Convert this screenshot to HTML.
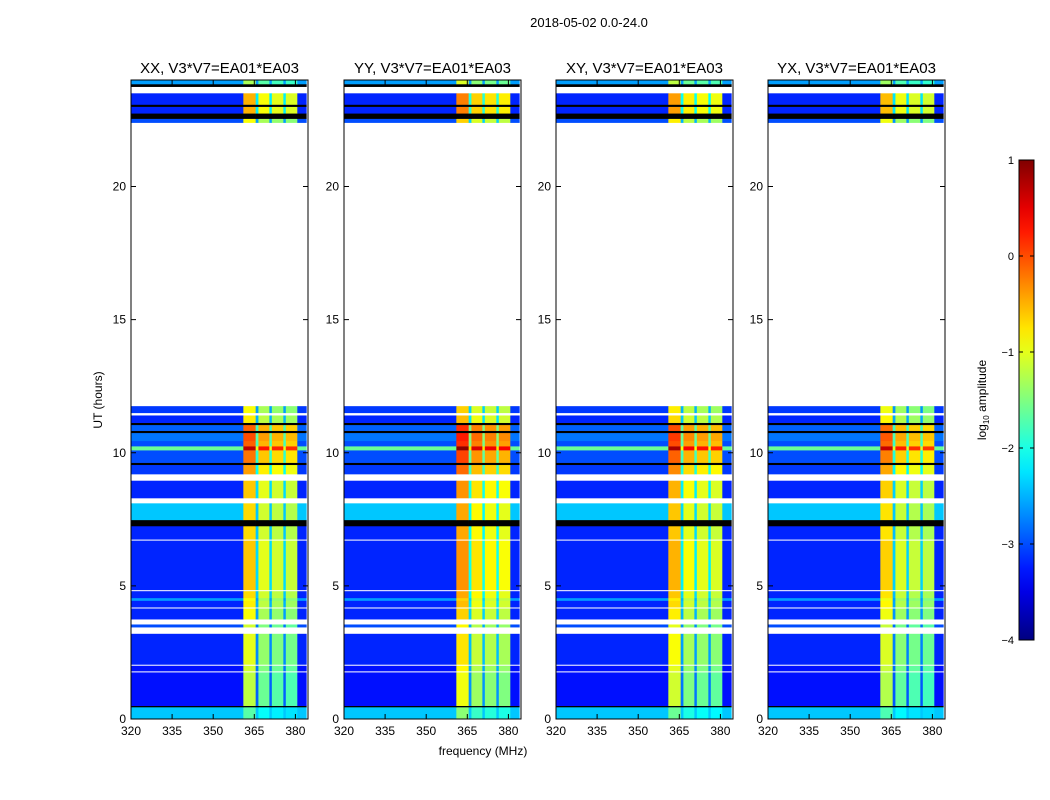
<!DOCTYPE html>
<html><head><meta charset="utf-8"><style>
body{margin:0;background:#fff;}
svg{display:block;font-family:"Liberation Sans",sans-serif;}
</style></head><body>
<svg id="c" width="1050" height="800"></svg>
<script>
// ---- data ----
const panelTitles = ["XX, V3*V7=EA01*EA03","YY, V3*V7=EA01*EA03","XY, V3*V7=EA01*EA03","YX, V3*V7=EA01*EA03"];
const panelBandOffset = [0, 0.25, 0.1, -0.05];
// time segments: [startHour, endHour, backgroundLog, bandLog]; null = flagged (white), -9 = zero (black)
const segStart = [0, 0.45, 0.5, 1.75, 1.8, 2.0, 2.05, 3.2, 3.45, 3.55, 3.75, 4.15, 4.2, 4.45, 4.55, 4.8, 4.85, 6.7, 6.75, 7.25, 7.48, 8.1, 8.3, 8.95, 9.2, 9.55, 9.63, 10.1, 10.25, 10.45, 10.75, 10.83, 11.05, 11.13, 11.4, 11.5, 11.75, 12.15, 22.4, 22.55, 22.75, 23.0, 23.08, 23.5, 23.75, 23.85];
const segEnd   = [0.45, 0.5, 1.75, 1.8, 2.0, 2.05, 3.2, 3.45, 3.55, 3.75, 4.15, 4.2, 4.45, 4.55, 4.8, 4.85, 6.7, 6.75, 7.25, 7.48, 8.1, 8.3, 8.95, 9.2, 9.55, 9.63, 10.1, 10.25, 10.45, 10.75, 10.83, 11.05, 11.13, 11.4, 11.5, 11.75, 12.15, 22.4, 22.55, 22.75, 23.0, 23.08, 23.5, 23.75, 23.85, 24.0];
const segBg    = [-2.4, -9, -3.3, null, -3.3, null, -3.2, null, -3.0, null, -3.2, null, -3.2, -2.6, -3.2, null, -3.2, null, -3.2, -9, -2.4, null, -3.2, null, -3.1, -9, -3.0, -1.6, -3.0, -2.8, -9, -2.9, -9, -3.2, null, -3.1, null, null, -3.0, -9, -3.2, -9, -3.2, null, -9, -2.6];
const segBand  = [-2.0, -9, -1.5, null, -1.4, null, -1.3, null, -1.4, null, -1.2, null, -1.1, -1.2, -1.0, null, -0.9, null, -1.0, -9, -1.0, null, -0.9, null, -0.7, -9, -0.5, 0.4, -0.4, -0.3, -9, -0.4, -9, -1.1, null, -1.2, null, null, -1.2, -9, -0.8, -9, -0.8, null, -9, -1.6];
// frequency columns (MHz) and offset from band level; "bg" columns use background level
const colStart = [320, 361, 365.5, 366.5, 370.5, 371.4, 375.6, 376.5, 380.7];
const colEnd   = [361, 365.5, 366.5, 370.5, 371.4, 375.6, 376.5, 380.7, 384];
const colKind  = ["bg","band","sep","band","sep","band","sep","band","bg"];
const colOffset= [0, 0.3, -1.4, -0.1, -1.4, -0.2, -1.4, -0.25, 0];
const xTicks = [320,335,350,365,380];
const yTicks = [0,5,10,15,20];
const cbTicks = [1,0,-1,-2,-3,-4];
const cbLabels = ["1","0","\u22121","\u22122","\u22123","\u22124"];

const NS="http://www.w3.org/2000/svg";
const svg=document.getElementById('c');
function el(tag,attrs,parent){const e=document.createElementNS(NS,tag);for(const k in attrs)e.setAttribute(k,attrs[k]);(parent||svg).appendChild(e);return e;}
function jet(v){ // v in [-4,1]
  let t=(v+4)/5; t=Math.max(0,Math.min(1,t));
  const f=x=>Math.max(0,Math.min(1,x));
  const r=f(1.5-Math.abs(4*t-3)), g=f(1.5-Math.abs(4*t-2)), b=f(1.5-Math.abs(4*t-1));
  return `rgb(${Math.round(r*255)},${Math.round(g*255)},${Math.round(b*255)})`;
}
const panelX=[131,344,556,768], PW=177, PT=80, PB=719;
const yScale=h=>PB-(PB-PT)*h/24;
const xScale=(x0,f)=>x0+(f-320)*PW/64.6;

let t=el('text',{x:589,y:27,'font-size':13,'text-anchor':'middle'});
t.textContent="2018-05-02 0.0-24.0";



panelTitles.forEach((title,p)=>{
  const x0=panelX[p];
  const g=el('g',{});
  
  
  for(let i=0;i<segStart.length;i++){
    if(segBg[i]===null) continue;
    for(let j=0;j<colStart.length;j++){
      let v;
      if(segBg[i]<=-9) v=-99;
      else if(colKind[j]==="bg") v=segBg[i];
      else if(colKind[j]==="sep") v=Math.max(segBg[i], segBand[i]+panelBandOffset[p]+colOffset[j]);
      else v=segBand[i]+panelBandOffset[p]+colOffset[j];
      const xa=xScale(x0,colStart[j]), xb=xScale(x0,colEnd[j]);
      const ya=yScale(segEnd[i]), yb=yScale(segStart[i]);
      const r=el('rect',{x:xa,y:ya,width:xb-xa+0.3,height:yb-ya+0.3,fill:v<-5?'#000':jet(v)},g);
      
      
    }
  }
  const fr=el('rect',{x:x0,y:PT,width:PW,height:PB-PT,fill:'none',stroke:'#000','stroke-width':1},g);
  
  
  const tt=el('text',{x:x0+PW/2,y:73,'font-size':15,'text-anchor':'middle'},g);
  tt.textContent=title;
  
  
  xTicks.forEach(v=>{
    const x=xScale(x0,v);
    el('line',{x1:x,x2:x,y1:PB,y2:PB-5,stroke:'#000'},g);
    el('line',{x1:x,x2:x,y1:PT,y2:PT+5,stroke:'#000'},g);
    const l=el('text',{x:x,y:PB+16,'font-size':12,'text-anchor':'middle'},g);
    l.textContent=v;
    
    
  });
  yTicks.forEach(v=>{
    const y=yScale(v);
    el('line',{x1:x0,x2:x0+5,y1:y,y2:y,stroke:'#000'},g);
    el('line',{x1:x0+PW,x2:x0+PW-5,y1:y,y2:y,stroke:'#000'},g);
    const l=el('text',{x:x0-5,y:y+4,'font-size':12,'text-anchor':'end'},g);
    l.textContent=v;
    
    
  });
});
let yl=el('text',{x:102,y:400,'font-size':12,'text-anchor':'middle',transform:'rotate(-90 102 400)'});
yl.textContent="UT (hours)";


let xl=el('text',{x:483,y:755,'font-size':12,'text-anchor':'middle'});
xl.textContent="frequency (MHz)";



const cbX=1019,cbW=15,cbT=160,cbB=640;
const defs=el('defs',{});
const grad=el('linearGradient',{id:'jg',x1:0,y1:1,x2:0,y2:0},defs);
for(let k=0;k<=20;k++){el('stop',{offset:k/20,'stop-color':jet(-4+5*k/20)},grad);}
const cb=el('rect',{x:cbX,y:cbT,width:cbW,height:cbB-cbT,fill:'url(#jg)',stroke:'#000'});


cbTicks.forEach((v,i)=>{
  const y=cbB-(v+4)/5*(cbB-cbT);
  el('line',{x1:cbX,x2:cbX+4,y1:y,y2:y,stroke:'#000'});
  el('line',{x1:cbX+cbW,x2:cbX+cbW-4,y1:y,y2:y,stroke:'#000'});
  const l=el('text',{x:cbX-5,y:y+4,'font-size':11,'text-anchor':'end'});
  l.textContent=cbLabels[i];
  
  
});
let cl=el('text',{x:986,y:400,'font-size':12,'text-anchor':'middle',transform:'rotate(-90 986 400)'});
cl.innerHTML='log<tspan font-size="8" dy="3">10</tspan><tspan dy="-3"> amplitude</tspan>';


</script>
</body></html>
